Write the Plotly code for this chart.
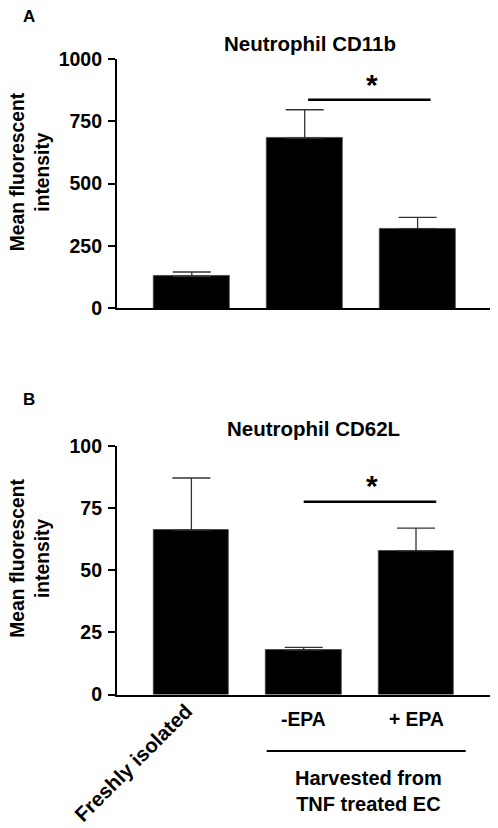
import plotly.graph_objects as go

# ---- data ----
categories = ["Freshly isolated", "-EPA", "+ EPA"]
cd11b_mean = [129, 682, 320]
cd11b_err = [17, 114, 45]
cd62l_mean = [66.1, 17.9, 57.8]
cd62l_err = [21.0, 1.1, 9.1]
cd11b_ticks = [0, 250, 500, 750, 1000]
cd62l_ticks = [0, 25, 50, 75, 100]
sig_a_level = 836
sig_b_level = 77.5
xpos = [0, 1, 2]

W, H = 498, 828
FONT = "Liberation Sans, Arial, sans-serif"

# calibration of page rendering (offset + scale)
OX = 8.0
SY, OY = 0.975, 17.4

def px(x):
    return (x - OX) / W

def py(y):
    return 1 - ((y - OY) / SY) / H

fig = go.Figure()

err_style = dict(type="data", symmetric=False, color="#333333", thickness=1.3, width=19)

fig.add_trace(go.Bar(
    x=xpos, y=cd11b_mean, width=0.67,
    marker=dict(color="black", line=dict(color="#444", width=0.8)),
    error_y=dict(err_style, array=cd11b_err, arrayminus=[0] * 3),
    xaxis="x", yaxis="y", showlegend=False))

fig.add_trace(go.Bar(
    x=xpos, y=cd62l_mean, width=0.67,
    marker=dict(color="black", line=dict(color="#444", width=0.8)),
    error_y=dict(err_style, array=cd62l_err, arrayminus=[0] * 3),
    xaxis="x2", yaxis="y2", showlegend=False))

tickfont = dict(family=FONT, size=19.5, color="black", weight="bold")
axis_common = dict(showgrid=False, zeroline=False, showline=True, linecolor="black",
                   linewidth=1.5, ticks="outside", ticklen=7, tickwidth=1.5,
                   tickcolor="black", tickfont=tickfont, ticklabelstandoff=2)
xaxis_common = dict(showgrid=False, zeroline=False, showline=True, linecolor="black",
                    linewidth=1.5, ticks="", showticklabels=False, range=[-0.665, 2.665])

fig.update_layout(
    width=W, height=H, margin=dict(l=0, r=0, t=0, b=0),
    plot_bgcolor="white", paper_bgcolor="white",
    bargap=0,
    xaxis=dict(xaxis_common, domain=[px(116.7), px(492.7)], anchor="y"),
    yaxis=dict(axis_common, domain=[py(307.3), py(57.3)], range=[0, 1000],
               tickvals=cd11b_ticks, anchor="x"),
    xaxis2=dict(xaxis_common, domain=[px(116.7), px(490.7)], anchor="y2"),
    yaxis2=dict(axis_common, domain=[py(694), py(445)], range=[0, 100],
                tickvals=cd62l_ticks, anchor="x2"),
)

def txt(text, x, y, size=19, angle=0, xref="paper", yref="paper", yanchor="middle", yshift=0):
    fig.add_annotation(text=text, x=x, y=y, xref=xref, yref=yref, showarrow=False,
                       textangle=angle, xanchor="center", yanchor=yanchor, yshift=yshift,
                       font=dict(family=FONT, size=size, color="black", weight="bold"))

# panel labels and titles
txt("A", px(29), py(15), size=17)
txt("B", px(29), py(399), size=17)
txt("Neutrophil CD11b", px(310), py(42), size=20.5)
txt("Neutrophil CD62L", px(313), py(428), size=20.5)

# y titles
txt("Mean fluorescent<br>intensity", px(30), py(171), size=19.3, angle=-90)
txt("Mean fluorescent<br>intensity", px(30), py(558), size=19.3, angle=-90)

# significance brackets
fig.add_shape(type="line", xref="x", yref="y", x0=1.03, x1=2.115,
              y0=sig_a_level, y1=sig_a_level, line=dict(color="black", width=2.5))
txt("*", 1.6, sig_a_level, size=30, xref="x", yref="y", yanchor="bottom", yshift=-3)

fig.add_shape(type="line", xref="x2", yref="y2", x0=1.0, x1=2.18,
              y0=sig_b_level, y1=sig_b_level, line=dict(color="black", width=2.5))
txt("*", 1.61, sig_b_level, size=30, xref="x2", yref="y2", yanchor="bottom", yshift=-2)

# category labels (panel B)
txt(categories[0], px(133), py(762), size=20.5, angle=-45)
txt(categories[1], 1, py(719), size=19.3, xref="x2")
txt(categories[2], 2, py(719), size=19.3, xref="x2")

# group bracket
fig.add_shape(type="line", xref="paper", yref="paper", x0=px(266.7), x1=px(465.7),
              y0=py(750.7), y1=py(750.7), line=dict(color="black", width=2))
txt("Harvested from<br>TNF treated EC", px(368), py(791), size=20)

fig.write_html("out.html")
